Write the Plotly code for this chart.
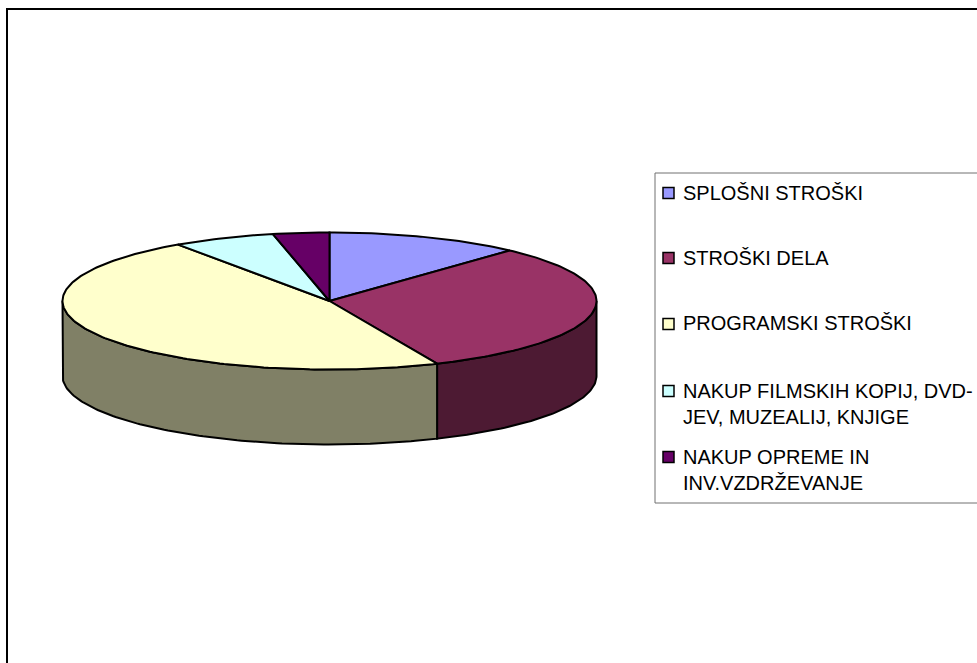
import numpy as np
import plotly.graph_objects as go

# ---- data ----
categories = ["SPLOŠNI STROŠKI", "STROŠKI DELA", "PROGRAMSKI STROŠKI",
              "NAKUP FILMSKIH KOPIJ, DVD-<br>JEV, MUZEALIJ, KNJIGE",
              "NAKUP OPREME IN<br>INV.VZDRŽEVANJE"]
shares = [11.8, 31.6, 47.0, 6.2, 3.4]

# ---- styles ----
top_colors = ["#9999FF", "#993366", "#FFFFCC", "#CCFFFF", "#660066"]
side_colors = ["#4D4D80", "#4D1A33", "#808066", "#668080", "#330033"]

# ---- layout constants (pixels) ----
W, H = 977, 663
CX, CY, RX, RY, DEPTH = 329.5, 301, 267, 68.5, 75
LEG_SWATCH_Y = [193, 258, 324, 391, 457]
LEG_TEXT_Y = [192.5, 257.5, 322.5, 403.5, 469.5]
LEG_SWATCH_X, LEG_TEXT_X = 668.5, 681
LEG_L, LEG_T, LEG_B = 655, 173, 503
FONT = "Liberation Sans, Arial, sans-serif"


def arc(a0, a1, dy=0.0):
    t = np.radians(np.arange(a0, a1 + 0.5, 1.0))
    t = np.append(t, np.radians(a1))
    return CX + RX * np.sin(t), CY - RY * np.cos(t) + dy


fig = go.Figure()
edges = np.concatenate([[0], np.cumsum(shares)]) / sum(shares) * 360
line = dict(color="black", width=2)

# side walls: only the part of each slice facing the viewer (90..270 deg)
for i in range(len(shares)):
    a0, a1 = max(edges[i], 90), min(edges[i + 1], 270)
    if a1 <= a0:
        continue
    xa, ya = arc(a0, a1)
    xb, yb = arc(a0, a1, DEPTH)
    fig.add_trace(go.Scatter(
        x=np.concatenate([xa, xb[::-1], xa[:1]]),
        y=np.concatenate([ya, yb[::-1], ya[:1]]),
        mode="lines", fill="toself", fillcolor=side_colors[i], line=line,
        hoverinfo="skip", showlegend=False))

# top faces
for i in range(len(shares)):
    xa, ya = arc(edges[i], edges[i + 1])
    fig.add_trace(go.Scatter(
        x=np.concatenate([[CX], xa, [CX]]),
        y=np.concatenate([[CY], ya, [CY]]),
        mode="lines", fill="toself", fillcolor=top_colors[i], line=line,
        name=categories[i].replace("<br>", " "), hoverinfo="name",
        showlegend=False))

# legend swatches
fig.add_trace(go.Scatter(
    x=[LEG_SWATCH_X] * len(categories), y=LEG_SWATCH_Y, mode="markers",
    marker=dict(symbol="square", size=11, color=top_colors,
                line=dict(color="black", width=1.5)),
    hoverinfo="skip", showlegend=False))

annotations = [dict(x=LEG_TEXT_X, y=y, text=c, xref="x", yref="y", showarrow=False,
                    xanchor="left", yanchor="middle", align="left",
                    font=dict(family=FONT, size=20, color="black"))
               for c, y in zip(categories, LEG_TEXT_Y)]

shapes = [
    dict(type="path", path=f"M 7 {H+5} L 7 9 L {W+5} 9", xref="x", yref="y",
         line=dict(color="black", width=2)),
    dict(type="path", path=f"M {W+5} {LEG_T} L {LEG_L} {LEG_T} L {LEG_L} {LEG_B} L {W+5} {LEG_B}",
         xref="x", yref="y", line=dict(color="#707070", width=1)),
]

fig.update_layout(
    width=W, height=H, margin=dict(l=0, r=0, t=0, b=0),
    paper_bgcolor="white", plot_bgcolor="white", showlegend=False,
    xaxis=dict(range=[0, W], visible=False, fixedrange=True),
    yaxis=dict(range=[H, 0], visible=False, fixedrange=True),
    shapes=shapes, annotations=annotations,
)
fig.write_html("out.html", config={"displayModeBar": False},
               post_script="document.body.style.margin='0';document.body.style.overflow='hidden';")
